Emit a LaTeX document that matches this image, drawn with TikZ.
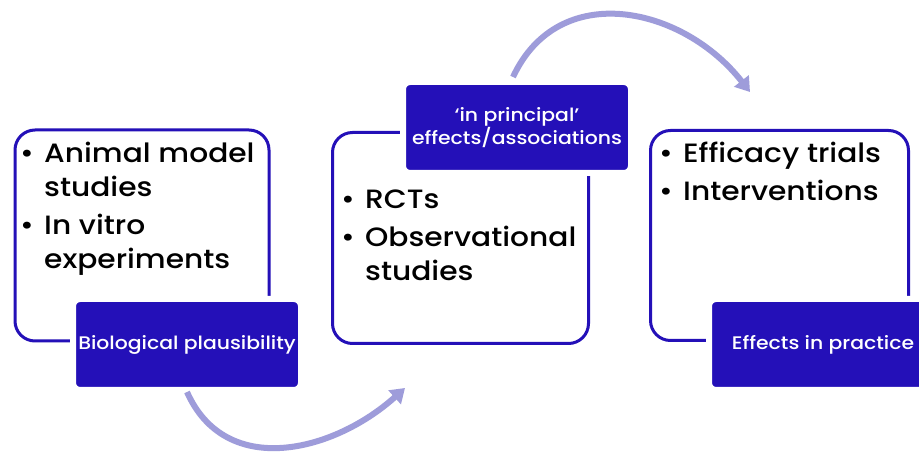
\documentclass[tikz,border=0pt]{standalone}
\usepackage{fontspec}
\setmainfont{Poppins}
\IfFontExistsTF{Poppins Medium}
  {\newfontfamily\itemfont{Poppins Medium}[FakeStretch=1.12]}
  {\newfontfamily\itemfont{Poppins}[FakeBold=1.2,FakeStretch=1.12]}
\usetikzlibrary{arrows.meta}

\definecolor{boxblue}{RGB}{36,16,184}
\definecolor{arrowblue}{RGB}{158,156,218}
\newcommand\itm{\makebox[24pt][l]{\textbullet}}
\newcommand\ind{\hspace*{24pt}}

\begin{document}
\begin{tikzpicture}[x=1pt,y=-1pt,
    box/.style={draw=boxblue,line width=3pt,rounded corners=20pt,anchor=north west,inner sep=0pt},
    tag/.style={fill=boxblue,draw=white,line width=6pt,rounded corners=7pt,text=white,align=center,
                minimum width=228pt,minimum height=91pt,anchor=north west,inner sep=0pt,
                font=\itemfont\fontsize{18.2}{21}\selectfont},
    items/.style={anchor=north west,align=left,inner sep=0pt,font=\itemfont\fontsize{26.5}{34}\selectfont},
    loop arrow/.style={draw=arrowblue,line width=6pt,-{Triangle[length=14pt,width=18pt]}}]

  \clip (0,0) rectangle (919,454);
  \fill[white] (0,0) rectangle (919,454);

  % the three stages
  \node[box,minimum width=254pt,minimum height=211pt] (box1) at (13.5,128.5) {};
  \node[box,minimum width=256pt,minimum height=211pt] (box2) at (331,131) {};
  \node[box,minimum width=258pt,minimum height=210pt] (box3) at (649,129) {};

  \node[items] (list1) at (20,142) {\itm Animal model\\ \ind studies\\[4pt] \itm In vitro\\ \ind experiments};
  \node[items] (list2) at (341,190) {\itm RCTs\\[4pt] \itm Observational\\ \ind studies};
  \node[items] (list3) at (659,142) {\itm Efficacy trials\\[4pt] \itm Interventions};

  % labels on top
  \node[tag] (tag1) at (70,296) {Biological plausibility};
  \node[tag] (tag2) at (400,79) {‘in principal’\\effects/associations};
  \node[tag] (tag3) at (706,296) {Effects in practice};

  % arrows between stages
  \coordinate (a1 start) at (187,392);
  \coordinate (a1 end) at (405,388);
  \coordinate (a2 start) at (513,77);
  \coordinate (a2 end) at (750,92);
  \draw[loop arrow] (a1 start) to[out=-66,in=-138,looseness=1.12] (a1 end);
  \draw[loop arrow] (a2 start) to[out=65,in=128,looseness=1.17] (a2 end);

\end{tikzpicture}
\end{document}
